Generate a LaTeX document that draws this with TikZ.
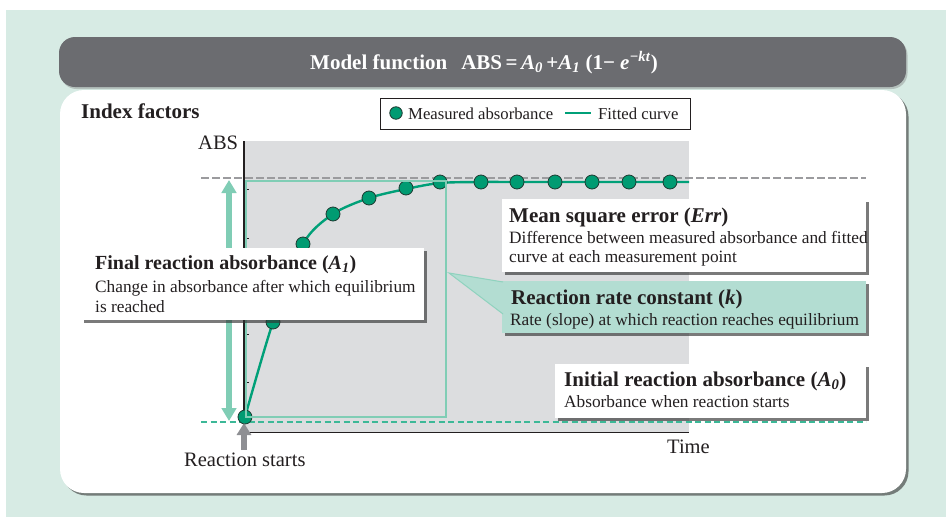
\documentclass[tikz,border=0pt]{standalone}
\usepackage{fontspec}
\setmainfont{Liberation Serif}
\usetikzlibrary{arrows.meta,shadows}
\definecolor{mint}{HTML}{D7EBE4}
\definecolor{hdr}{HTML}{6B6C70}
\definecolor{plotbg}{HTML}{DCDDDF}
\definecolor{curvegreen}{HTML}{00A078}
\definecolor{dotgreen}{HTML}{009B72}
\definecolor{dotedge}{HTML}{1E3B32}
\definecolor{lightgreen}{HTML}{80CDB5}
\definecolor{dashgreen}{HTML}{3CB897}
\definecolor{dashgray}{HTML}{9B9B9E}
\definecolor{callfill}{HTML}{B3DDD2}
\definecolor{calledge}{HTML}{8FD2BE}
\definecolor{arrowgray}{HTML}{8E8F93}
\definecolor{textdark}{HTML}{231F20}
\tikzset{
  txt/.style={inner sep=0pt, anchor=base west, text=textdark},
  head/.style={txt, font=\fontsize{21}{25}\selectfont\bfseries},
  body/.style={txt, font=\fontsize{17.3}{21}\selectfont},
  lab/.style={txt, font=\fontsize{20.5}{24}\selectfont},
  shad/.style={drop shadow={shadow xshift=2.5pt, shadow yshift=-2.5pt, opacity=0.65, fill=black!80}},
  box/.style={anchor=north west, inner sep=0pt, outer sep=0pt, fill=white, shad},
  dot/.style={circle, inner sep=0pt, minimum size=14pt, fill=dotgreen, draw=dotedge, line width=0.8pt},
  fitline/.style={draw=curvegreen, line width=2.4pt},
  dashline/.style={line width=2pt, dash pattern=on 7.5pt off 3.5pt},
}
\begin{document}
\begin{tikzpicture}[x=1pt,y=-1pt]
\useasboundingbox (0,0) rectangle (946,517);
% background
\fill[white] (0,0) rectangle (946,517);
\fill[mint] (6,10) rectangle (946,517);
% header bar
\fill[hdr, rounded corners=16pt, drop shadow={shadow xshift=1.5pt, shadow yshift=-2pt, opacity=0.4}] (59,37) rectangle (906,87);
\node[head, text=white] (title) at (310,69) {Model function\hspace{14pt}ABS\,=\,\textit{A}\textsubscript{\textit{0}}\,+\textit{A}\textsubscript{\textit{1}} (1\char"2212\ \textit{e}\textsuperscript{\textit{\char"2212 kt}})};
% main panel
\fill[white, rounded corners=24pt, drop shadow={shadow xshift=2.5pt, shadow yshift=-2.5pt, opacity=0.6, fill=black!80}] (60,90) rectangle (906,493);
\node[head] (index) at (81,118) {Index factors};
% plot area
\fill[plotbg] (244,141) rectangle (689,432);
\foreach \yy in {189,238,286,334,382} \draw[line width=1pt, textdark] (244,\yy) -- (249,\yy);
\draw[line width=1.5pt, textdark] (244,141) -- (244,432.5) -- (689,432.5);
\node[lab] (abs) at (198,149) {ABS};
\node[lab] (time) at (667,453) {Time};
\node[lab] (start) at (184,466) {Reaction starts};
% dashed levels
\coordinate (gl) at (201,178); \coordinate (gr) at (866,178);
\coordinate (el) at (201,422); \coordinate (er) at (866,422);
\draw[dashline, dashgray] (gl) -- (gr);
\draw[dashline, dashgreen, dash pattern=on 6pt off 3.5pt] (el) -- (er);
% fitted curve
\draw[fitline] plot[smooth, tension=0.5] coordinates {(245,417) (273,322) (303,244) (333,214) (369,198) (406,189) (440,183) (481,182) (517,182) (555,182) (592,182) (629,182) (670,182) (689,182)};
% dots
\foreach \px/\py [count=\i] in {245/417,273/322,303/244,333/214,369/198,406/188,440/182,481/182,517/182,555/182,592/182,629/182,670/182}
  \node[dot] (p\i) at (\px,\py) {};
% A1 rectangle
\draw[lightgreen, line width=2.5pt] (246,181) rectangle (446,417);
% A1 double arrow
\coordinate (at) at (229,180); \coordinate (ab) at (229,421);
\draw[lightgreen, line width=5.7pt, {Triangle[width=14.5pt,length=13pt]}-{Triangle[width=14.5pt,length=13pt]}] (at) -- (ab);
% reaction start arrow
\coordinate (st) at (244,450); \coordinate (sh) at (244,423);
\draw[arrowgray, line width=6.5pt, -{Triangle[width=14pt,length=12pt]}] (st) -- (sh);
% Final reaction absorbance box
\node[box, minimum width=343pt, minimum height=72pt] (finalbox) at (81,248) {};
\node[head, font=\fontsize{20}{24}\selectfont\bfseries] (finalh) at (95,269) {Final reaction absorbance (\textit{A}\textsubscript{\textit{1}})};
\node[body] (final1) at (95,292) {Change in absorbance after which equilibrium};
\node[body] (final2) at (95,312) {is reached};
% Mean square error box
\node[box, minimum width=364pt, minimum height=73pt] (msebox) at (502,199) {};
\node[head] (mseh) at (509,222) {Mean square error (\textit{Err})};
\node[body] (mse1) at (509,243) {Difference between measured absorbance and fitted};
\node[body] (mse2) at (509,262) {curve at each measurement point};
% Reaction rate constant callout
\coordinate (tip) at (449,273);
\coordinate (wu) at (503,282); \coordinate (wd) at (503,314);
\node[box, fill=callfill, minimum width=364pt, minimum height=52pt] (ratebox) at (502,281) {};
\fill[callfill] (tip) -- (wu) -- (wd) -- cycle;
\draw[calledge, line width=1pt] (wu) -- (tip) -- (wd);
\node[head] (rateh) at (511,304) {Reaction rate constant (\textit{k})};
\node[body] (rate1) at (510,325) {Rate (slope) at which reaction reaches equilibrium};
% Initial reaction absorbance box
\node[box, minimum width=311pt, minimum height=54pt] (initbox) at (555,364) {};
\node[head] (inith) at (564,386) {Initial reaction absorbance (\textit{A}\textsubscript{\textit{0}})};
\node[body] (init1) at (564,407) {Absorbance when reaction starts};
% legend
\node[anchor=north west, inner sep=0pt, fill=white, draw=textdark, line width=0.8pt, minimum width=310pt, minimum height=31pt] (legend) at (380,98) {};
\node[dot, minimum size=12.5pt] (legdot) at (396,113) {};
\node[txt, font=\fontsize{16.7}{20}\selectfont] (legm) at (408,119) {Measured absorbance};
\coordinate (ll) at (565,113); \coordinate (lr) at (591,113);
\draw[fitline] (ll) -- (lr);
\node[txt, font=\fontsize{16.7}{20}\selectfont] (legf) at (598,119) {Fitted curve};
\end{tikzpicture}
\end{document}
